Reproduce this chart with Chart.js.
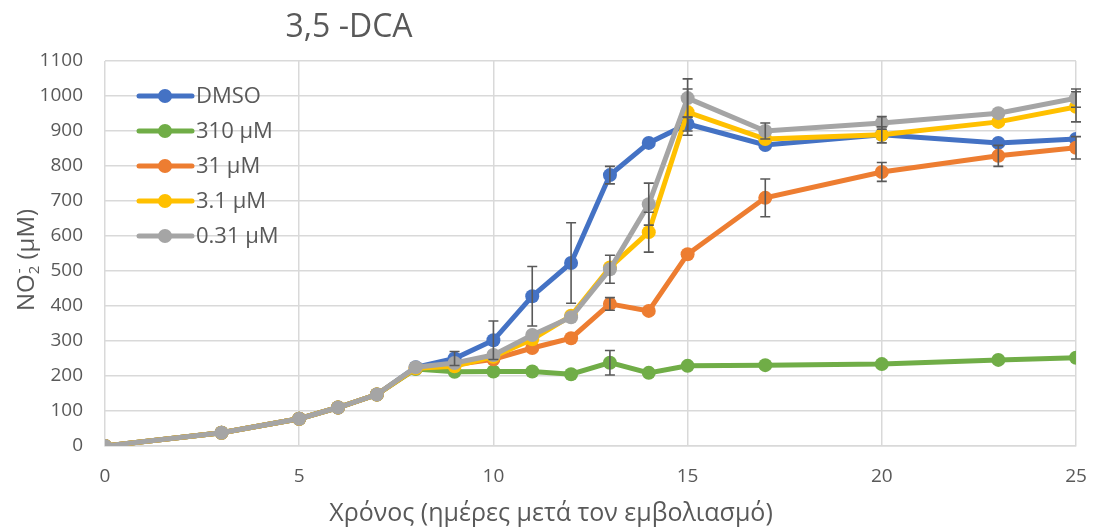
<!DOCTYPE html>
<html>
<head>
<meta charset="utf-8">
<script src="https://cdn.jsdelivr.net/npm/chart.js@4/dist/chart.umd.min.js"></script>
<style>
  html, body { margin: 0; padding: 0; background: #fff; }
  canvas { display: block; }
</style>
</head>
<body>
<canvas id="chart" width="1097" height="531"></canvas>
<script>
// Nitrite (NO2-) over time for each treatment
var days = [0, 3, 5, 6, 7, 8, 9, 10, 11, 12, 13, 14, 15, 17, 20, 23, 25];

var seriesNames = ['DMSO', '310 μM', '31 μM', '3.1 μM', '0.31 μM'];
var seriesColors = ['#4472C4', '#70AD47', '#ED7D31', '#FFC000', '#A5A5A5'];

var dmso   = [0, 38, 78, 110, 147, 225, 250, 302, 428, 523, 774, 866, 920, 860, 889, 866, 877];
var c310   = [0, 38, 78, 110, 147, 220, 212, 213, 213, 205, 238, 209, 229, 231, 234, 246, 252];
var c31    = [0, 38, 78, 110, 147, 222, 232, 248, 280, 308, 406, 386, 548, 709, 783, 829, 852];
var c3_1   = [0, 38, 78, 110, 147, 222, 228, 255, 305, 372, 510, 611, 954, 877, 889, 926, 969];
var c0_31  = [0, 38, 78, 110, 147, 225, 237, 260, 317, 368, 505, 691, 994, 900, 923, 951, 994];

// standard deviations (null = no bar shown)
var errDmso  = [null, null, null, null, null, null, 20, 55, 85, 115, 25, null, 20, null, null, null, null];
var err310   = [null, null, null, null, null, null, null, null, null, null, 35, null, null, null, null, null, null];
var err31    = [null, null, null, null, null, null, null, null, null, null, 18, null, null, 54, 27, 30, 32];
var err3_1   = [null, null, null, null, null, null, null, null, null, null, null, 57, 66, null, 23, null, 43];
var err0_31  = [null, null, null, null, null, null, null, null, null, null, 40, 60, 55, 23, 18, null, 26];

var yTicks = [0, 100, 200, 300, 400, 500, 600, 700, 800, 900, 1000, 1100];
var xTicks = [0, 5, 10, 15, 20, 25];

var allValues = [dmso, c310, c31, c3_1, c0_31];
var allErrors = [errDmso, err310, err31, err3_1, err0_31];

var textColor = '#595959';
var fontFamily = '"Open Sans", "DejaVu Sans", sans-serif';

var datasets = seriesNames.map(function (name, i) {
  return {
    label: name,
    data: days.map(function (d, j) { return { x: d, y: allValues[i][j] }; }),
    errors: allErrors[i],
    borderColor: seriesColors[i],
    backgroundColor: seriesColors[i],
    pointBackgroundColor: seriesColors[i],
    pointBorderColor: seriesColors[i],
    borderWidth: 5,
    pointRadius: 7,
    pointBorderWidth: 0,
    tension: 0,
    order: seriesNames.length - i  // later series sit on top
  };
});

// error bars with caps, drawn over the lines
var errorBars = {
  id: 'errorBars',
  afterDatasetsDraw: function (chart) {
    var ctx = chart.ctx;
    var yScale = chart.scales.y;
    ctx.save();
    ctx.strokeStyle = '#595959';
    ctx.lineWidth = 1.6;
    chart.data.datasets.forEach(function (ds, i) {
      var meta = chart.getDatasetMeta(i);
      ds.errors.forEach(function (e, j) {
        if (e == null) return;
        var pt = meta.data[j];
        var v = ds.data[j].y;
        var top = yScale.getPixelForValue(v + e);
        var bot = yScale.getPixelForValue(v - e);
        ctx.beginPath();
        ctx.moveTo(pt.x, top); ctx.lineTo(pt.x, bot);
        ctx.moveTo(pt.x - 5, top); ctx.lineTo(pt.x + 5, top);
        ctx.moveTo(pt.x - 5, bot); ctx.lineTo(pt.x + 5, bot);
        ctx.stroke();
      });
    });
    ctx.restore();
  }
};

// title, axis titles and the in-plot legend
var decorations = {
  id: 'decorations',
  afterDraw: function (chart) {
    var ctx = chart.ctx;
    ctx.save();
    ctx.fillStyle = textColor;

    // chart title
    ctx.font = '32px ' + fontFamily;
    ctx.textAlign = 'center';
    ctx.textBaseline = 'middle';
    ctx.fillText('3,5 -DCA', 349, 28);

    // x axis title
    ctx.font = '25px ' + fontFamily;
    ctx.fillText('Χρόνος (ημέρες μετά τον εμβολιασμό)', 551, 514);

    // y axis title: NO2- (μM) with sub/superscript
    ctx.translate(25, 260);
    ctx.rotate(-Math.PI / 2);
    var big = '24px ' + fontFamily, small = '15px ' + fontFamily;
    ctx.font = big;
    var w1 = ctx.measureText('NO').width;
    ctx.font = small;
    var w2 = ctx.measureText('2').width;
    ctx.font = big;
    var w3 = ctx.measureText(' (μM)').width;
    var x0 = -(w1 + w2 + w3) / 2;
    ctx.textAlign = 'left';
    ctx.textBaseline = 'alphabetic';
    ctx.fillText('NO', x0, 9);
    ctx.font = small;
    ctx.fillText('2', x0 + w1, 14);
    ctx.fillText('-', x0 + w1 + 1, -1);
    ctx.font = big;
    ctx.fillText(' (μM)', x0 + w1 + w2, 9);
    ctx.restore();

    // legend
    ctx.save();
    ctx.font = '22px ' + fontFamily;
    ctx.textBaseline = 'middle';
    ctx.textAlign = 'left';
    var yScale = chart.scales.y;
    chart.data.datasets.forEach(function (ds, i) {
      var y = yScale.getPixelForValue(1000 - i * 100);
      ctx.strokeStyle = ds.borderColor;
      ctx.lineWidth = 5;
      ctx.lineCap = 'round';
      ctx.beginPath();
      ctx.moveTo(139, y); ctx.lineTo(192, y);
      ctx.stroke();
      ctx.fillStyle = ds.borderColor;
      ctx.beginPath();
      ctx.arc(165, y, 7, 0, Math.PI * 2);
      ctx.fill();
      ctx.fillStyle = textColor;
      ctx.fillText(ds.label, 196, y + 1);
    });
    ctx.restore();
  }
};

new Chart(document.getElementById('chart'), {
  type: 'line',
  data: { datasets: datasets },
  options: {
    responsive: false,
    animation: false,
    devicePixelRatio: 1,
    layout: { padding: { top: 61, right: 21, left: 0, bottom: 0 } },
    plugins: {
      legend: { display: false },
      tooltip: { enabled: false }
    },
    scales: {
      x: {
        type: 'linear',
        min: 0,
        max: 25,
        afterBuildTicks: function (axis) {
          axis.ticks = xTicks.map(function (v) { return { value: v }; });
        },
        afterFit: function (axis) {
          axis.height = 85;
          axis.paddingLeft = 0;
          axis.paddingRight = 0;
        },
        grid: { color: '#D9D9D9', lineWidth: 1.5, drawTicks: false },
        border: { color: '#D9D9D9', width: 1.5 },
        ticks: {
          color: textColor, font: { family: fontFamily, size: 19 }, padding: 19, maxRotation: 0,
          callback: function (v) { return String(v); }
        }
      },
      y: {
        min: 0,
        max: 1100,
        afterBuildTicks: function (axis) {
          axis.ticks = yTicks.map(function (v) { return { value: v }; });
        },
        afterFit: function (axis) {
          axis.width = 105;
          axis.paddingTop = 0;
          axis.paddingBottom = 0;
        },
        grid: { color: '#D9D9D9', lineWidth: 1.5, drawTicks: false },
        border: { display: false },
        ticks: {
          color: textColor, font: { family: fontFamily, size: 19 }, padding: 22,
          callback: function (v) { return String(v); }
        }
      }
    }
  },
  plugins: [errorBars, decorations]
});
</script>
</body>
</html>
